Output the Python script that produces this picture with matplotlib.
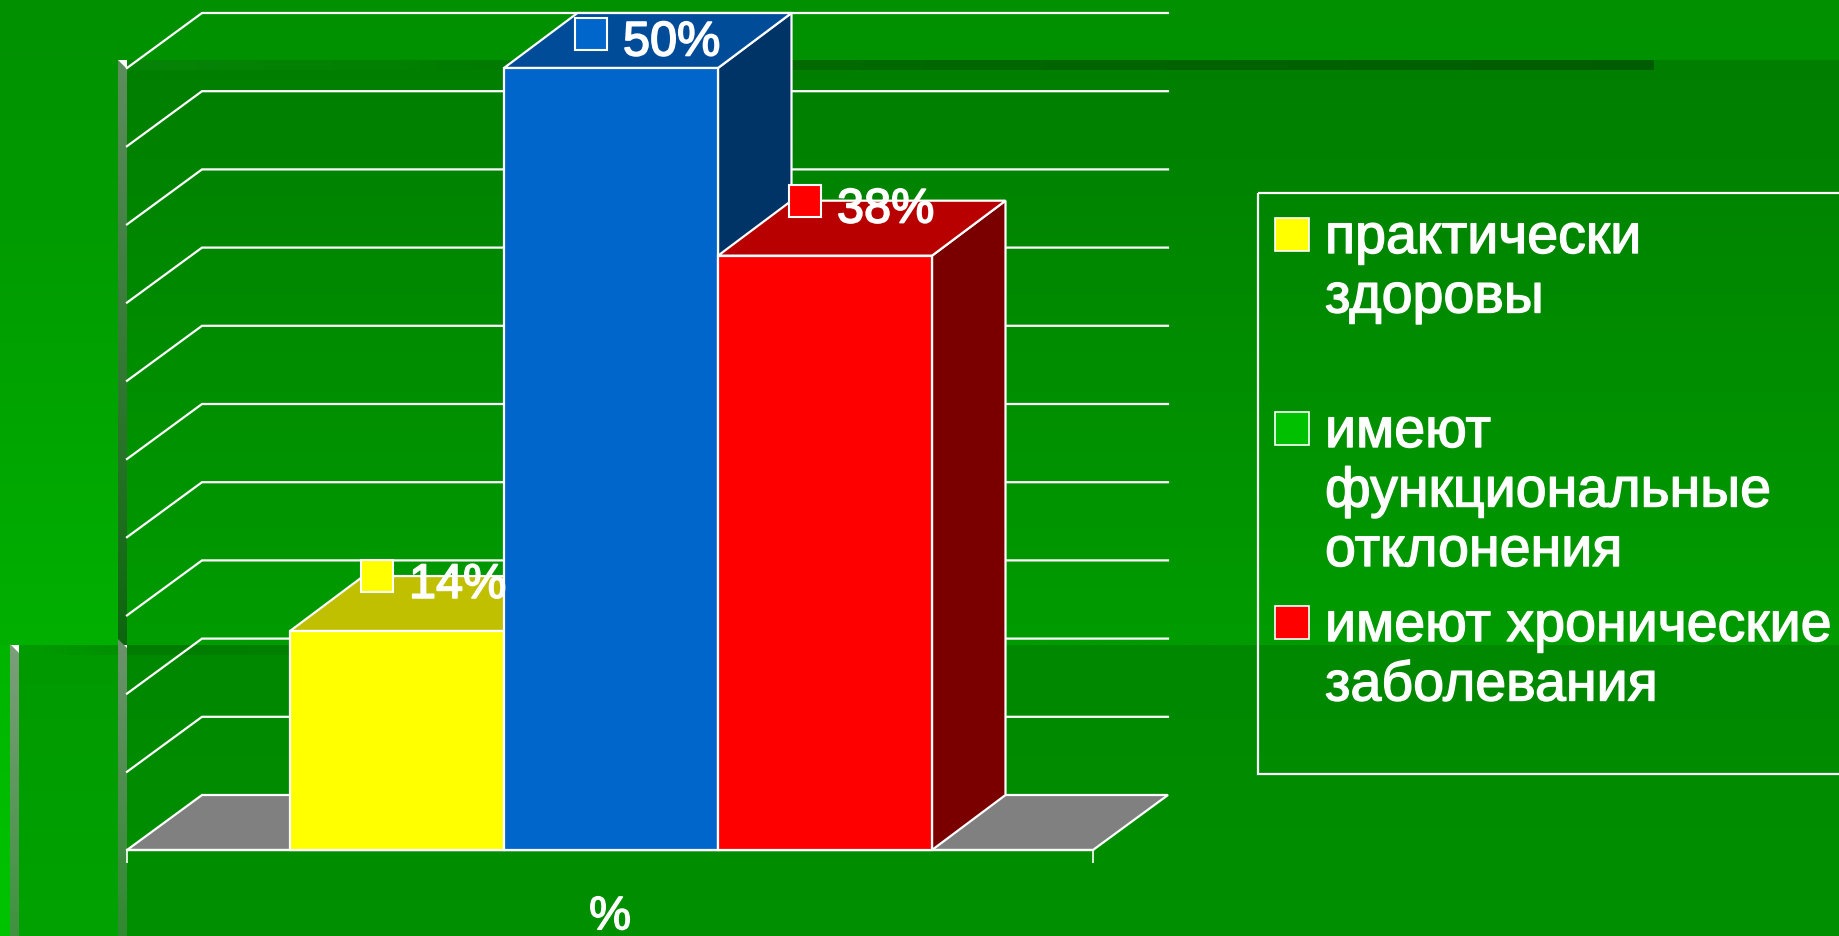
import numpy as np
import matplotlib
matplotlib.use("Agg")
import matplotlib.pyplot as plt
from matplotlib.colors import to_rgb
from matplotlib.patches import Rectangle, Polygon
import matplotlib.patheffects as pe

plt.rcParams['font.family'] = ['Liberation Sans', 'DejaVu Sans']

# ---------- data ----------
categories = ['практически\nздоровы', 'имеют\nфункциональные\nотклонения', 'имеют хронические\nзаболевания']
values = [14, 50, 38]
value_labels = ['14%', '50%', '38%']
front_colors = ['#FFFF00', '#0066CC', '#FF0000']
top_colors = ['#C0C000', '#004C99', '#B80000']
side_colors = ['#808000', '#003366', '#7A0000']
legend_colors = ['#FFFF00', '#00C000', '#FF0000']
y_ticks = [0, 5, 10, 15, 20, 25, 30, 35, 40, 45, 50]
x_label = '%'

W, H = 1839, 937
fig = plt.figure(figsize=(W / 100, H / 100), dpi=100)

# ---------- slide background (pixel coordinates) ----------
bg = fig.add_axes([0, 0, 1, 1])
bg.set_xlim(0, W)
bg.set_ylim(H, 0)
bg.axis('off')


def grad(x0, x1, y0, y1, c0, c1, horizontal=False, clip=None, z=1):
    a, b = np.array(to_rgb(c0)), np.array(to_rgb(c1))
    t = np.linspace(0, 1, 256)[:, None]
    arr = a + (b - a) * t
    arr = arr[None, :, :] if horizontal else arr[:, None, :]
    im = bg.imshow(arr, extent=(x0, x1, y1, y0), aspect='auto', zorder=z,
                   interpolation='bilinear')
    if clip is not None:
        im.set_clip_path(Polygon(clip, transform=bg.transData))
    return im


grad(0, W, 0, 61, '#009000', '#009200')                     # top strip
grad(127, W, 61, 646, '#007E00', '#009C00')                 # main panel upper
grad(127, W, 646, H, '#008800', '#009000')                  # main panel lower
grad(0, 118, 0, 646, '#009000', '#00B000')                  # left strip upper
grad(0, 11, 646, H, '#00B400', '#00C400')                   # far left lower
grad(19, 118, 646, H, '#009A00', '#00A200')                 # left panel lower
# walls
grad(118, 127, 61, 646, '#5E8E5E', '#0C660C', clip=[(118, 61), (127, 70), (127, 646), (118, 646)], z=2)
grad(118, 127, 640, H, '#6E926E', '#2F8A2F', clip=[(118, 640), (127, 649), (127, H), (118, H)], z=2)
grad(10, 19, 645, H, '#7C9E7C', '#3F923F', clip=[(10, 645), (19, 654), (19, H), (10, H)], z=2)
# horizontal shadow bands
stops = [(127, 400, '#078407', '#018001'), (400, 800, '#018001', '#006A00'), (800, 1654, '#006A00', '#005C00')]
for x0, x1, c0, c1 in stops:
    grad(x0, x1, 61, 71, c0, c1, horizontal=True, z=2)
stops = [(19, 118, '#009C00', '#009000'), (127, 290, '#007C00', '#008000'), (290, 960, '#008000', '#008900')]
for x0, x1, c0, c1 in stops:
    grad(x0, x1, 646, 656, c0, c1, horizontal=True, z=2)
bg.set_xlim(0, W)
bg.set_ylim(H, 0)

# ---------- chart axes: front plane of the 3-D box ----------
px_left, px_right, px_base, px_top = 127, 1093, 851, 69
ax = fig.add_axes([px_left / W, (H - px_base) / H, (px_right - px_left) / W, (px_base - px_top) / H])
ax.patch.set_visible(False)
unit_x = 214.0
xlim = (-0.5 - (290 - px_left) / unit_x, 2.5 + (px_right - 932) / unit_x)
ax.set_xlim(*xlim)
ax.set_ylim(0, 50)
for s in ax.spines.values():
    s.set_visible(False)
dx = 75 / unit_x
bar_dx = 73.5 / unit_x
dy = 55 / ((px_base - px_top) / 50)
LW = 1.6
WHITE = '#FFFFFF'
xl, xr = xlim

# floor
ax.fill([xl, xl + dx, xr + dx, xr], [0, dy, dy, 0], facecolor='#808080', edgecolor=WHITE,
        lw=LW, zorder=1, clip_on=False)
# gridlines on the back wall + side wall
for t in y_ticks[1:]:
    ax.plot([xl, xl + dx, xr + dx], [t, t + dy, t + dy], color=WHITE, lw=LW, zorder=2,
            clip_on=False, solid_joinstyle='miter')
# front baseline + end ticks
ax.plot([xl, xr], [0, 0], color=WHITE, lw=LW, zorder=2, clip_on=False)
ax.set_yticks([])
ax.set_xticks([xl, xr], ['', ''])
ax.tick_params(axis='x', length=9.4, width=1.2, color=WHITE)
ax.text((xl + xr) / 2, -0.058, x_label, color=WHITE, fontsize=34, ha='center', va='top',
        transform=ax.get_xaxis_transform(), zorder=10,
        path_effects=[pe.withStroke(linewidth=1.0, foreground=WHITE)])

# bars
for i, v in enumerate(values):
    z = 3 + i
    ax.fill([i + 0.5, i + 0.5 + bar_dx, i + 0.5 + bar_dx, i + 0.5], [0, dy, v + dy, v],
            facecolor=side_colors[i], edgecolor=WHITE, lw=LW, zorder=z, clip_on=False)
    ax.fill([i - 0.5, i - 0.5 + bar_dx, i + 0.5 + bar_dx, i + 0.5], [v, v + dy, v + dy, v],
            facecolor=top_colors[i], edgecolor=WHITE, lw=LW, zorder=z, clip_on=False)
    ax.bar(i, v, width=1.0, color=front_colors[i], edgecolor=WHITE, lw=LW, zorder=z, clip_on=False)

# value labels
for i, v in enumerate(values):
    yc = min(v + dy, 52.2)
    ax.plot([i - 20 / unit_x], [yc], marker='s', ms=22.5, mfc=front_colors[i], mec=WHITE, mew=1.5,
            zorder=8, clip_on=False, ls='none')
    ax.text(i + 12 / unit_x, yc - 1.4, value_labels[i], color=WHITE, fontsize=35, ha='left',
            va='baseline', zorder=9, clip_on=False,
            path_effects=[pe.withStroke(linewidth=1.2, foreground=WHITE)])

# ---------- legend (pixel coordinates) ----------
lg = fig.add_axes([0, 0, 1, 1])
lg.patch.set_visible(False)
lg.set_xlim(0, W)
lg.set_ylim(H, 0)
lg.axis('off')
lg.add_patch(Rectangle((1258, 194), 700, 581, fill=False, edgecolor=WHITE, lw=LW))
swatch_tops = [219, 413, 607]
for top, col, lab in zip(swatch_tops, legend_colors, categories):
    lg.add_patch(Rectangle((1275, top), 34, 33, facecolor=col, edgecolor=WHITE, lw=1.2))
    for j, line in enumerate(lab.split('\n')):
        lg.text(1325, top + 35 + j * 59.5, line, color=WHITE, fontsize=40, ha='left', va='baseline',
                path_effects=[pe.withStroke(linewidth=1.0, foreground=WHITE)])

fig.savefig('out.png', dpi=100)
